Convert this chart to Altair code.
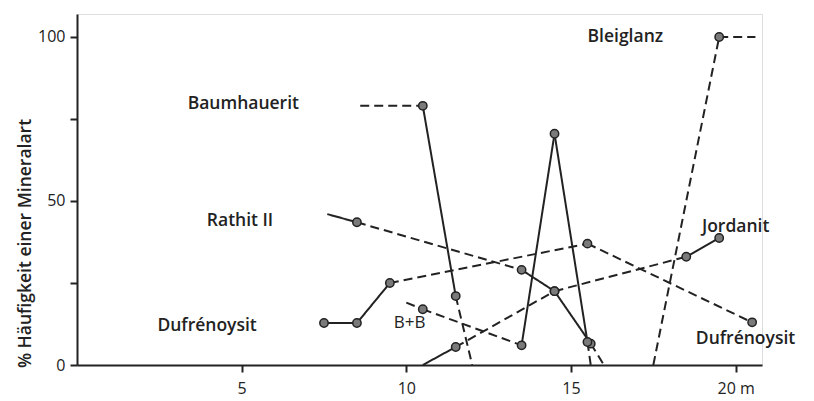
import altair as alt
import pandas as pd

# ---- data (x in m, y in %) ----
baum_x = [8.6, 10.5, 11.5, 12.0]
baum_y = [79, 79, 21, 0]
baum_seg = ["dashed", "solid", "dashed"]
baum_pts = [1, 2]

blei_x = [17.5, 19.5, 20.6]
blei_y = [0, 100, 100]
blei_seg = ["dashed", "dashed"]
blei_pts = [1]

rath_x = [7.6, 8.5, 13.5, 14.5, 15.6, 16.0]
rath_y = [46, 43.5, 29, 22.5, 6.5, 0]
rath_seg = ["solid", "dashed", "solid", "solid", "dashed"]
rath_pts = [1, 2, 3, 4]

dufr_x = [7.5, 8.5, 9.5, 15.5, 20.5]
dufr_y = [12.8, 12.8, 25, 37, 13]
dufr_seg = ["solid", "solid", "dashed", "dashed"]
dufr_pts = [0, 1, 2, 3, 4]

bb_x = [10.0, 10.5, 13.5, 14.5, 15.5, 15.6]
bb_y = [19, 17, 6, 70.5, 7, 0]
bb_seg = ["dashed", "dashed", "solid", "solid", "dashed"]
bb_pts = [1, 2, 3, 4]

jord_x = [10.5, 11.5, 14.5, 18.5, 19.5]
jord_y = [0, 5.5, 22.5, 33, 38.7]
jord_seg = ["solid", "dashed", "dashed", "solid"]
jord_pts = [1, 2, 3, 4]

label_text = ["Baumhauerit", "Bleiglanz", "Rathit II", "Dufrénoysit", "B+B", "Jordanit", "Dufrénoysit"]
label_x = [5.05, 16.65, 4.95, 3.95, 10.1, 20.0, 20.3]
label_y = [79.5, 100, 44, 12, 12.8, 42, 8]
label_weight = [600, 600, 600, 600, 400, 600, 600]

x_ticks = [5, 10, 15, 20]
y_ticks = [0, 25, 50, 75, 100]

series = [
    (baum_x, baum_y, baum_seg, baum_pts),
    (blei_x, blei_y, blei_seg, blei_pts),
    (rath_x, rath_y, rath_seg, rath_pts),
    (dufr_x, dufr_y, dufr_seg, dufr_pts),
    (bb_x, bb_y, bb_seg, bb_pts),
    (jord_x, jord_y, jord_seg, jord_pts),
]

segs, pts = [], []
for xs, ys, sg, pi in series:
    for i, st in enumerate(sg):
        segs.append({"x": xs[i], "y": ys[i], "x2": xs[i + 1], "y2": ys[i + 1], "style": st})
    for i in pi:
        pts.append({"x": xs[i], "y": ys[i]})

seg_df = pd.DataFrame(segs)
pt_df = pd.DataFrame(pts)
lab_df = pd.DataFrame({"text": label_text, "x": label_x, "y": label_y, "w": label_weight})

FONT = "Open Sans"
xscale = alt.Scale(domain=[0, 20.8], nice=False, zero=False)
yscale = alt.Scale(domain=[0, 107], nice=False, zero=False)

xaxis = alt.Axis(values=x_ticks, labelExpr="datum.value == 20 ? '20 m' : datum.label",
                 grid=False, domainColor="#222", domainWidth=2, tickColor="#222",
                 tickWidth=2, tickSize=7, labelFont=FONT, labelFontSize=16,
                 labelFontWeight=500, labelColor="#222", labelPadding=8, title=None)
yaxis = alt.Axis(values=y_ticks, labelExpr="datum.value % 50 == 0 ? datum.label : ''",
                 grid=False, domainColor="#222", domainWidth=2, tickColor="#222",
                 tickWidth=2, tickSize=7, labelFont=FONT, labelFontSize=16,
                 labelFontWeight=500, labelColor="#222", labelPadding=5,
                 title="% Häufigkeit einer Mineralart", titleFont=FONT,
                 titleFontSize=17.5, titleFontWeight=600, titleColor="#222",
                 titleX=-52, titleY=229, titleBaseline="middle", titleAngle=-90)

lines = alt.Chart(seg_df).mark_rule(strokeWidth=2, color="#222").encode(
    x=alt.X("x:Q", scale=xscale, axis=xaxis),
    y=alt.Y("y:Q", scale=yscale, axis=yaxis),
    x2="x2:Q",
    y2="y2:Q",
    strokeDash=alt.StrokeDash("style:N", scale=alt.Scale(domain=["solid", "dashed"],
                                                        range=[[1, 0], [9, 5]]), legend=None),
)

points = alt.Chart(pt_df).mark_point(filled=True, size=70, fill="#7a7a7a",
                                      stroke="#222", strokeWidth=1.5, opacity=1).encode(
    x=alt.X("x:Q", scale=xscale),
    y=alt.Y("y:Q", scale=yscale),
)

labels_bold = alt.Chart(lab_df).transform_filter("datum.w == 600").mark_text(
    font=FONT, fontSize=17.5, fontWeight=600, color="#222",
    align="center", baseline="middle").encode(
    x=alt.X("x:Q", scale=xscale),
    y=alt.Y("y:Q", scale=yscale),
    text="text:N",
)
labels_reg = alt.Chart(lab_df).transform_filter("datum.w == 400").mark_text(
    font=FONT, fontSize=17, fontWeight=400, color="#222",
    align="center", baseline="middle").encode(
    x=alt.X("x:Q", scale=xscale),
    y=alt.Y("y:Q", scale=yscale),
    text="text:N",
)

chart = alt.layer(lines, points, labels_bold, labels_reg).properties(
    width=685, height=351,
    autosize=alt.AutoSizeParams(type="none"),
    padding={"left": 69, "top": 6, "right": 44, "bottom": 34},
).configure_view(stroke=None).configure(background="white")

chart.save("out.html", embed_options={"renderer": "svg", "actions": False})
